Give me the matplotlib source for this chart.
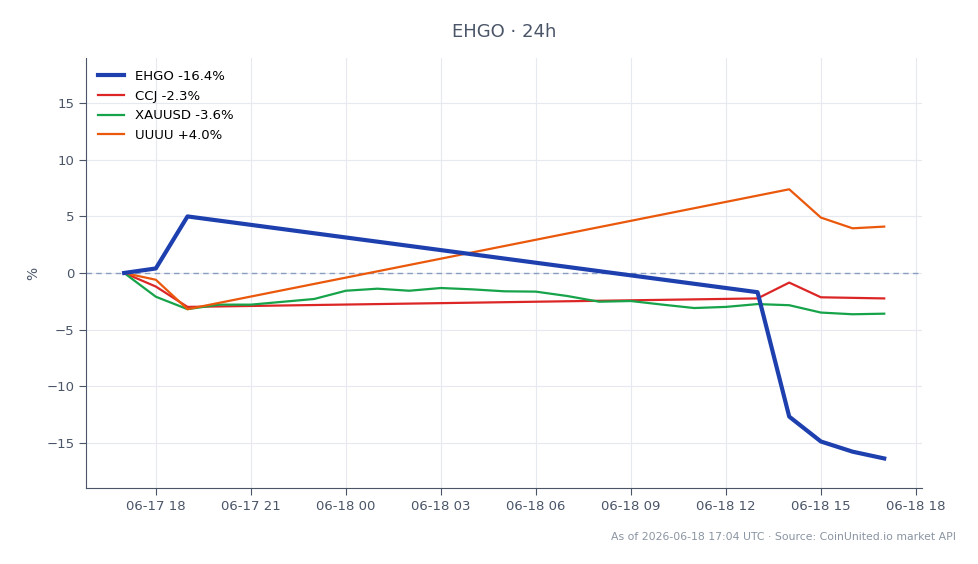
import numpy as np
import matplotlib
matplotlib.use('Agg')
import matplotlib.pyplot as plt
import matplotlib.dates as mdates

# hourly timestamps, 06-17 17:00 .. 06-18 17:00 UTC
hours = np.arange(np.datetime64('2026-06-17T17:00'), np.datetime64('2026-06-18T18:00'), np.timedelta64(1, 'h'))

# sparse series (only the hours that have quotes)
ehgo_idx = [0, 1, 2, 20, 21, 22, 23, 24]
ehgo_val = [0.0, 0.4, 5.0, -1.7, -12.7, -14.9, -15.8, -16.4]

ccj_idx = [0, 1, 2, 20, 21, 22, 23, 24]
ccj_val = [0.0, -1.2, -3.0, -2.25, -0.85, -2.15, -2.2, -2.25]

uuuu_idx = [0, 1, 2, 21, 22, 23, 24]
uuuu_val = [0.0, -0.6, -3.2, 7.4, 4.9, 3.95, 4.1]

xau_val = [0.0, -2.1, -3.2, -2.8, -2.8, -2.55, -2.3, -1.57, -1.39, -1.57, -1.33,
           -1.45, -1.62, -1.65, -2.04, -2.54, -2.48, -2.8, -3.1, -3.0, -2.75,
           -2.85, -3.5, -3.65, -3.6]

labels = ['EHGO -16.4%', 'CCJ -2.3%', 'XAUUSD -3.6%', 'UUUU +4.0%']
colors = ['#1e40af', '#dc2626', '#16a34a', '#ea580c']

txt = '#4a5568'

fig = plt.figure(figsize=(9.79, 5.64), dpi=100)
ax = fig.add_axes([0.088, 0.135, 0.854, 0.762])

t = hours.astype('datetime64[m]').astype(object)
ax.plot([t[i] for i in ehgo_idx], ehgo_val, color=colors[0], lw=3, label=labels[0], zorder=5)
ax.plot([t[i] for i in ccj_idx], ccj_val, color=colors[1], lw=1.6, label=labels[1], zorder=4)
ax.plot(t, xau_val, color=colors[2], lw=1.6, label=labels[2], zorder=4)
ax.plot([t[i] for i in uuuu_idx], uuuu_val, color=colors[3], lw=1.6, label=labels[3], zorder=4)

ax.axhline(0, color='#8a9fc0', lw=1, ls=(0, (4, 3)), zorder=2)

ax.set_ylim(-19, 19)
ax.set_yticks([-15, -10, -5, 0, 5, 10, 15])
ax.yaxis.set_major_formatter(matplotlib.ticker.FuncFormatter(lambda v, p: f'{int(v)}'.replace('-', '\u2212')))
ax.xaxis.set_major_locator(mdates.HourLocator(byhour=range(0, 24, 3)))
ax.xaxis.set_major_formatter(mdates.DateFormatter('%m-%d %H'))

ax.grid(True, color='#e6eaf0', lw=0.8)
ax.set_axisbelow(True)
for s in ['top', 'right']:
    ax.spines[s].set_visible(False)
for s in ['left', 'bottom']:
    ax.spines[s].set_color(txt)
ax.tick_params(colors=txt, labelsize=9.5, length=5)
ax.set_ylabel('%', color=txt, fontsize=10)

ax.legend(loc='upper left', frameon=False, fontsize=9.5, handlelength=2.0)
ax.set_title('EHGO · 24h', color=txt, fontsize=13, pad=15)
fig.text(0.976, 0.047, 'As of 2026-06-18 17:04 UTC · Source: CoinUnited.io market API',
         ha='right', va='center', color='#8a94a3', fontsize=7.8)

fig.savefig('out.png', dpi=100)
